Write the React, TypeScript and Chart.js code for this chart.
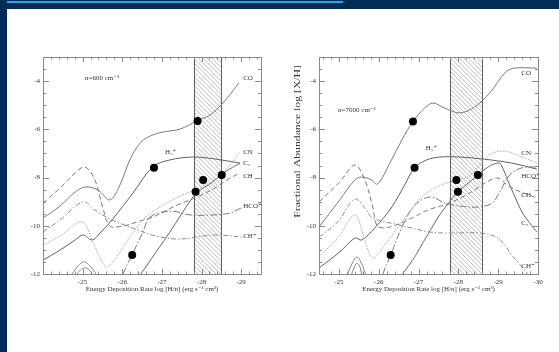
import React, { useEffect, useRef } from "react";
import { Chart, registerables } from "chart.js";
Chart.register(...registerables);

type Pt = [number, number];

const FONT = '"Liberation Serif", "DejaVu Serif", serif';
const Y_RANGE = [-12, -3];
const Y_TICKS = [-12, -10, -8, -6, -4];
const X_TITLE = "Energy Deposition Rate log [H/n] (erg s\u207B\u00B9 cm\u00B3)";
const Y_TITLE = "Fractional Abundance log [X/H]";

// ---------- Left panel: n = 600 cm^-3 ----------
const L_X_RANGE = [-29.5, -24];
const L_X_TICKS = [-25, -26, -27, -28, -29];
const L_BAND = [-27.8, -28.5];
const L_CO: Pt[] = [[-24.0, -9.68], [-24.43, -9.18], [-24.81, -8.6], [-25.08, -8.39], [-25.39, -8.52], [-25.69, -8.93], [-25.94, -8.31], [-26.19, -7.27], [-26.45, -6.57], [-26.7, -6.28], [-27.03, -6.11], [-27.46, -5.99], [-27.88, -5.65], [-28.21, -5.41], [-28.54, -4.91], [-28.77, -4.45], [-28.94, -4.08]];
const L_H3P: Pt[] = [[-24.0, -11.42], [-24.43, -11.01], [-24.81, -10.59], [-25.01, -10.38], [-25.24, -10.59], [-25.44, -10.3], [-25.74, -9.76], [-26.27, -8.64], [-26.77, -7.56], [-27.2, -7.27], [-27.78, -7.15], [-28.34, -7.23], [-28.97, -7.4]];
const L_CH: Pt[] = [[-24.0, -9.06], [-24.43, -8.43], [-24.81, -7.81], [-25.06, -7.56], [-25.31, -8.1], [-25.51, -9.26], [-25.69, -10.01], [-26.02, -10.01], [-26.45, -9.8], [-26.83, -9.6], [-27.33, -9.18], [-27.88, -8.81], [-28.34, -8.43], [-28.72, -8.02], [-28.97, -7.81]];
const L_CHP: Pt[] = [[-24.0, -10.26], [-24.43, -9.76], [-25.01, -9.01], [-25.31, -9.35], [-25.69, -9.72], [-26.19, -10.05], [-26.83, -10.42], [-27.46, -10.55], [-28.29, -10.38], [-29.05, -10.47]];
const L_HCOP: Pt[] = [[-26.02, -12.0], [-26.14, -11.55], [-26.25, -11.21], [-26.4, -10.67], [-26.52, -10.26], [-26.7, -9.64], [-27.2, -9.39], [-27.71, -9.55], [-28.29, -9.55], [-28.72, -9.47], [-29.05, -9.22]];
const L_CN: Pt[] = [[-24.0, -10.8], [-24.43, -10.42], [-24.98, -9.84], [-25.24, -10.59], [-25.44, -11.34], [-25.61, -11.71], [-25.89, -11.21], [-26.19, -10.47], [-26.57, -9.68], [-27.03, -9.14], [-27.53, -8.72], [-27.96, -8.43], [-28.39, -8.02], [-28.72, -7.48], [-28.97, -6.94]];
const L_C2: Pt[] = [[-26.47, -12.0], [-27.2, -10.26], [-27.86, -8.64], [-28.21, -8.27], [-28.59, -7.77], [-28.97, -7.4]];
const L_ARC1: Pt[] = [[-24.73, -12.0], [-24.88, -11.67], [-25.03, -11.5], [-25.19, -11.67], [-25.34, -12.0]];
const L_ARC2: Pt[] = [[-24.86, -12.0], [-24.98, -11.79], [-25.08, -11.75], [-25.19, -11.88], [-25.24, -12.0]];
const L_POINTS: Pt[] = [[-27.9, -5.65], [-26.8, -7.59], [-27.85, -8.59], [-28.04, -8.1], [-28.51, -7.89], [-26.25, -11.21]];
const L_LABELS: [string, number, number][] = [
  ["CO", -29.05, -3.87], ["CN", -29.05, -6.94], ["C\u2082", -29.05, -7.4], ["CH", -29.05, -7.94],
  ["HCO\u207A", -29.05, -9.18], ["CH\u207A", -29.05, -10.42], ["H\u2083\u207A", -27.08, -6.93],
  ["n=600 cm\u207B\u00B3", -25.06, -3.87],
];

// ---------- Right panel: n = 7000 cm^-3 ----------
const R_X_RANGE = [-30, -24.5];
const R_X_TICKS = [-25, -26, -27, -28, -29, -30];
const R_BAND = [-27.8, -28.6];
const R_CO: Pt[] = [[-24.5, -10.05], [-25.02, -8.93], [-25.4, -8.1], [-25.57, -7.98], [-25.82, -8.1], [-25.97, -8.27], [-26.28, -7.4], [-26.58, -6.44], [-26.85, -5.7], [-27.15, -5.12], [-27.36, -4.91], [-27.66, -5.12], [-28.03, -5.32], [-28.41, -5.07], [-28.79, -4.49], [-29.19, -3.62], [-29.41, -3.46], [-29.97, -3.46]];
const R_H3P: Pt[] = [[-24.5, -11.75], [-25.02, -11.09], [-25.4, -10.51], [-25.57, -10.59], [-25.9, -10.09], [-26.33, -9.22], [-26.65, -8.31], [-26.9, -7.6], [-27.2, -7.27], [-27.53, -7.15], [-28.03, -7.15], [-28.61, -7.23], [-29.34, -7.4], [-29.97, -7.65]];
const R_CH: Pt[] = [[-24.5, -9.01], [-25.02, -8.19], [-25.4, -7.48], [-25.65, -8.1], [-25.85, -9.22], [-25.97, -10.01], [-26.28, -10.05], [-26.83, -9.68], [-27.23, -9.35], [-27.78, -9.06], [-28.28, -8.64], [-28.71, -8.19], [-28.99, -8.02], [-29.29, -8.39], [-29.97, -8.85]];
const R_CHP: Pt[] = [[-24.5, -10.47], [-24.97, -9.84], [-25.4, -8.89], [-25.65, -9.26], [-25.85, -9.68], [-26.53, -9.97], [-27.28, -10.26], [-27.78, -10.3], [-28.54, -10.3], [-28.96, -10.47], [-29.16, -10.8], [-29.34, -11.21], [-29.54, -11.59], [-29.74, -12.0]];
const R_CN: Pt[] = [[-24.5, -11.3], [-24.97, -10.51], [-25.4, -9.55], [-25.65, -10.59], [-25.85, -11.34], [-26.15, -10.8], [-26.48, -10.05], [-27.08, -8.81], [-27.46, -8.39], [-27.95, -8.1], [-28.28, -7.94], [-28.74, -7.11], [-29.11, -6.9], [-29.54, -7.11], [-29.97, -7.4]];
const R_C2: Pt[] = [[-26.6, -12.0], [-26.9, -11.3], [-27.15, -10.59], [-27.53, -9.55], [-27.98, -8.6], [-28.28, -8.19], [-28.49, -7.89], [-28.79, -7.52], [-29.04, -7.4], [-29.29, -8.31], [-29.61, -9.47], [-29.97, -10.26]];
const R_HCOP: Pt[] = [[-26.1, -12.0], [-26.3, -11.21], [-26.53, -10.26], [-26.78, -9.43], [-27.03, -8.97], [-27.33, -8.81], [-27.66, -9.06], [-28.03, -9.18], [-28.54, -9.22], [-28.84, -9.06], [-29.04, -8.6], [-29.29, -7.89], [-29.59, -7.6], [-29.97, -7.56]];
const R_ARC1: Pt[] = [[-25.22, -12.0], [-25.35, -11.5], [-25.45, -11.3], [-25.55, -11.5], [-25.67, -12.0]];
const R_ARC2: Pt[] = [[-25.32, -12.0], [-25.4, -11.67], [-25.45, -11.55], [-25.52, -11.67], [-25.57, -12.0]];
const R_POINTS: Pt[] = [[-26.86, -5.68], [-26.9, -7.59], [-27.95, -8.1], [-27.99, -8.59], [-28.49, -7.89], [-26.3, -11.21]];
const R_LABELS: [string, number, number][] = [
  ["CO", -29.58, -3.68], ["CN", -29.58, -6.99], ["HCO\u207A", -29.58, -7.94], ["CH", -29.58, -8.72],
  ["C\u2082", -29.58, -9.9], ["CH\u207A", -29.58, -11.67], ["H\u2083\u207A", -27.18, -6.79],
  ["n=7000 cm\u207B\u00B3", -24.98, -5.2],
];
const R_Y_TITLE_AT = -6.5;

type Kind = "CO" | "H3P" | "CH" | "CHP" | "HCOP" | "CN" | "C2" | "ARC";
const STYLES: Record<Kind, { color: string; dash: number[]; tension: number }> = {
  CO: { color: "#7a7a7a", dash: [], tension: 0.35 },
  H3P: { color: "#606060", dash: [], tension: 0.35 },
  CH: { color: "#7a7a7a", dash: [5, 3], tension: 0.35 },
  CHP: { color: "#8c8c8c", dash: [5, 2, 1.5, 2], tension: 0.35 },
  HCOP: { color: "#7a7a7a", dash: [7, 2, 1.5, 2], tension: 0.35 },
  CN: { color: "#a8a8a8", dash: [1.5, 1.2], tension: 0.35 },
  C2: { color: "#666", dash: [], tension: 0.2 },
  ARC: { color: "#888", dash: [], tension: 0.4 },
};

interface PanelDef {
  xRange: number[];
  xTicks: number[];
  band: number[];
  series: [Kind, Pt[]][];
  points: Pt[];
  labels: [string, number, number][];
  yTitleAt?: number;
  pad: { left: number; right: number };
  width: number;
  pageLeft: number;
}

const LEFT: PanelDef = {
  xRange: L_X_RANGE, xTicks: L_X_TICKS, band: L_BAND,
  series: [["CN", L_CN], ["CHP", L_CHP], ["CH", L_CH], ["HCOP", L_HCOP], ["CO", L_CO], ["H3P", L_H3P], ["C2", L_C2], ["ARC", L_ARC1], ["ARC", L_ARC2]],
  points: L_POINTS, labels: L_LABELS,
  pad: { left: 16, right: 19 }, width: 273, pageLeft: 7,
};
const RIGHT: PanelDef = {
  xRange: R_X_RANGE, xTicks: R_X_TICKS, band: R_BAND,
  series: [["CN", R_CN], ["CHP", R_CHP], ["CH", R_CH], ["HCOP", R_HCOP], ["CO", R_CO], ["H3P", R_H3P], ["C2", R_C2], ["ARC", R_ARC1], ["ARC", R_ARC2]],
  points: R_POINTS, labels: R_LABELS, yTitleAt: R_Y_TITLE_AT,
  pad: { left: 19, right: 21 }, width: 279, pageLeft: 280,
};

const CANVAS_H = 343;

function decor(p: PanelDef) {
  return {
    id: "decor",
    beforeDatasetsDraw(chart: any) {
      const { ctx, chartArea: a, scales } = chart;
      const xs = scales.x;
      const x1 = xs.getPixelForValue(p.band[0]);
      const x2 = xs.getPixelForValue(p.band[1]);
      const l = Math.min(x1, x2), r = Math.max(x1, x2);
      const h = a.bottom - a.top;
      ctx.save();
      ctx.beginPath();
      ctx.rect(l, a.top, r - l, h);
      ctx.clip();
      ctx.strokeStyle = "#a8a8a8";
      ctx.lineWidth = 0.8;
      for (let s = l - h; s < r; s += 4.5) {
        ctx.beginPath();
        ctx.moveTo(s, a.top);
        ctx.lineTo(s + h, a.bottom);
        ctx.stroke();
      }
      ctx.restore();
      ctx.save();
      ctx.strokeStyle = "#606060";
      ctx.lineWidth = 1;
      [l, r].forEach((v) => {
        ctx.beginPath();
        ctx.moveTo(Math.round(v) + 0.5, a.top);
        ctx.lineTo(Math.round(v) + 0.5, a.bottom);
        ctx.stroke();
      });
      ctx.restore();
    },
    afterDatasetsDraw(chart: any) {
      const { ctx, chartArea: a, scales } = chart;
      const xs = scales.x, ys = scales.y;
      ctx.save();
      ctx.strokeStyle = "#8a8a8a";
      ctx.lineWidth = 1;
      ctx.strokeRect(Math.round(a.left) + 0.5, Math.round(a.top) + 0.5, Math.round(a.right - a.left), Math.round(a.bottom - a.top));
      const xmin = Math.min(xs.min, xs.max), xmax = Math.max(xs.min, xs.max);
      ctx.beginPath();
      for (let i = Math.ceil(xmin * 5 - 1e-6); i <= Math.floor(xmax * 5 + 1e-6); i++) {
        const v = i / 5;
        const px = Math.round(xs.getPixelForValue(v)) + 0.5;
        const len = i % 5 === 0 ? 5 : 2.5;
        ctx.moveTo(px, a.bottom); ctx.lineTo(px, a.bottom - len);
        ctx.moveTo(px, a.top); ctx.lineTo(px, a.top + len);
      }
      for (let i = Math.ceil(ys.min * 2); i <= Math.floor(ys.max * 2); i++) {
        const v = i / 2;
        const py = Math.round(ys.getPixelForValue(v)) + 0.5;
        const len = i % 4 === 0 ? 6 : 3;
        ctx.moveTo(a.left, py); ctx.lineTo(a.left + len, py);
        ctx.moveTo(a.right, py); ctx.lineTo(a.right - len, py);
      }
      ctx.stroke();
      ctx.fillStyle = "#333";
      ctx.font = `7px ${FONT}`;
      ctx.textAlign = "left";
      ctx.textBaseline = "middle";
      p.labels.forEach(([t, x, y]) => {
        ctx.fillText(t, xs.getPixelForValue(x), ys.getPixelForValue(y));
      });
      if (p.yTitleAt !== undefined) {
        ctx.save();
        ctx.translate(a.left - 21, ys.getPixelForValue(p.yTitleAt));
        ctx.rotate(-Math.PI / 2);
        ctx.scale(1.38, 1);
        ctx.textAlign = "center";
        ctx.font = `8.5px ${FONT}`;
        ctx.fillText(Y_TITLE, 0, 0);
        ctx.restore();
      }
      ctx.restore();
    },
  };
}

function buildConfig(p: PanelDef): any {
  const datasets: any[] = p.series.map(([kind, data]) => ({
    type: "line",
    data: data.map(([x, y]) => ({ x, y })),
    borderColor: STYLES[kind].color,
    borderDash: STYLES[kind].dash,
    borderWidth: 1,
    pointRadius: 0,
    tension: STYLES[kind].tension,
    fill: false,
    order: 1,
  }));
  datasets.push({
    type: "scatter",
    data: p.points.map(([x, y]) => ({ x, y })),
    pointRadius: 4,
    pointBackgroundColor: "#000",
    pointBorderColor: "#000",
    pointBorderWidth: 0,
    order: 0,
  });
  return {
    type: "line",
    data: { datasets },
    options: {
      animation: false,
      responsive: false,
      maintainAspectRatio: false,
      events: [],
      layout: { padding: { left: p.pad.left, right: p.pad.right, top: 48, bottom: 48 } },
      plugins: { legend: { display: false }, tooltip: { enabled: false } },
      scales: {
        x: {
          type: "linear",
          min: p.xRange[0],
          max: p.xRange[1],
          reverse: true,
          grid: { display: false, drawTicks: false },
          border: { display: false },
          afterBuildTicks: (s: any) => { s.ticks = p.xTicks.map((v) => ({ value: v })); },
          afterFit: (s: any) => { s.height = 30; },
          ticks: { color: "#333", font: { family: FONT, size: 7 }, padding: 4, maxRotation: 0, autoSkip: false },
          title: { display: true, text: X_TITLE, color: "#333", font: { family: FONT, size: 7 }, padding: { top: 0, bottom: 11 } },
        },
        y: {
          type: "linear",
          min: Y_RANGE[0],
          max: Y_RANGE[1],
          grid: { display: false, drawTicks: false },
          border: { display: false },
          afterBuildTicks: (s: any) => { s.ticks = Y_TICKS.map((v) => ({ value: v })); },
          afterFit: (s: any) => { s.width = 20; },
          ticks: { color: "#333", font: { family: FONT, size: 7 }, padding: 3 },
        },
      },
    },
    plugins: [decor(p)],
  };
}

function Panel({ def }: { def: PanelDef }) {
  const ref = useRef<HTMLCanvasElement>(null);
  useEffect(() => {
    const chart = new Chart(ref.current as HTMLCanvasElement, buildConfig(def));
    return () => chart.destroy();
  }, [def]);
  return (
    <canvas
      ref={ref}
      width={def.width}
      height={CANVAS_H}
      style={{ position: "absolute", left: def.pageLeft, top: 9, width: def.width, height: CANVAS_H }}
    />
  );
}

export default function App() {
  return (
    <div style={{ position: "fixed", left: 0, top: 0, width: 559, height: 352, background: "#002c57", overflow: "hidden" }}>
      <div style={{ position: "absolute", left: 7, top: 1, width: 336, height: 2, background: "#27a9e1" }} />
      <div style={{ position: "absolute", left: 7, top: 9, width: 552, height: 343, background: "#ffffff" }} />
      <Panel def={LEFT} />
      <Panel def={RIGHT} />
    </div>
  );
}
